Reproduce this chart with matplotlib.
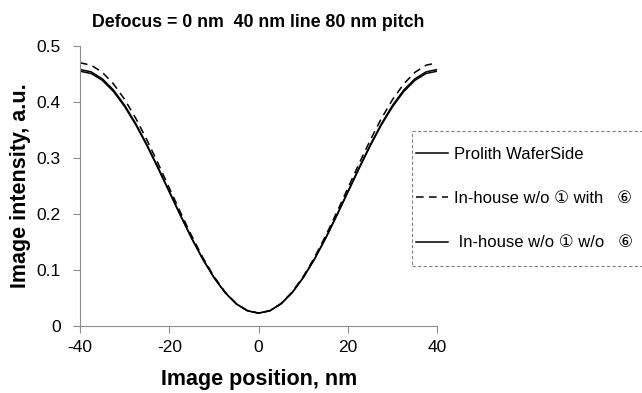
import numpy as np
import matplotlib.pyplot as plt
from matplotlib.lines import Line2D
from matplotlib.patches import Rectangle
from matplotlib.ticker import FuncFormatter

# image position, nm (symmetric about 0)
pos = [-40, -37.5, -35, -32.5, -30, -27.5, -25, -22.5, -20, -17.5, -15, -12.5, -10, -7.5, -5, -2.5,
       0, 2.5, 5, 7.5, 10, 12.5, 15, 17.5, 20, 22.5, 25, 27.5, 30, 32.5, 35, 37.5, 40]

half_prolith = [0.023, 0.0272, 0.0396, 0.0596, 0.0867, 0.1197, 0.1573, 0.1981, 0.2405,
                0.2829, 0.3237, 0.3613, 0.3943, 0.4214, 0.4414, 0.4538, 0.458]
half_with6 = [0.023, 0.0273, 0.0400, 0.0607, 0.0885, 0.1223, 0.1610, 0.2029, 0.2465,
              0.2901, 0.3320, 0.3707, 0.4045, 0.4323, 0.4530, 0.4657, 0.470]
half_wo6 = [0.023, 0.0271, 0.0394, 0.0594, 0.0863, 0.1190, 0.1563, 0.1969, 0.2390,
            0.2811, 0.3217, 0.3590, 0.3917, 0.4186, 0.4386, 0.4509, 0.455]

prolith = half_prolith[::-1] + half_prolith[1:]
with6 = half_with6[::-1] + half_with6[1:]
wo6 = half_wo6[::-1] + half_wo6[1:]

labels = ['Prolith WaferSide',
          'In-house w/o \u2460 with   \u2465',
          ' In-house w/o \u2460 w/o   \u2465']

plt.rcParams['font.family'] = ['Liberation Sans', 'DejaVu Sans', 'Noto Sans CJK JP']
plt.rcParams['axes.unicode_minus'] = False

fig = plt.figure(figsize=(6.42, 3.93), dpi=100)
ax = fig.add_axes([0.1246, 0.1705, 0.5565, 0.7125])

ax.plot(pos, prolith, color='black', lw=1.1)
ax.plot(pos, with6, color='black', lw=1.1, ls=(0, (5, 3.5)))
ax.plot(pos, wo6, color='black', lw=1.1)

ax.set_xlim(-40, 40)
ax.set_ylim(0, 0.5)
ax.set_xticks([-40, -20, 0, 20, 40])
ax.set_yticks([0, 0.1, 0.2, 0.3, 0.4, 0.5])
ax.yaxis.set_major_formatter(FuncFormatter(lambda v, p: '0' if v == 0 else '%.1f' % v))
for s in ['top', 'right']:
    ax.spines[s].set_visible(False)
for s in ['left', 'bottom']:
    ax.spines[s].set_color('#8c8c8c')
ax.tick_params(direction='out', length=5, color='#8c8c8c', labelsize=12.5)
ax.tick_params(axis='x', pad=5)
ax.tick_params(axis='y', pad=9)

ax.set_title('Defocus = 0 nm  40 nm line 80 nm pitch', fontsize=12.8, fontweight='bold', pad=14)
ax.set_xlabel('Image position, nm', fontsize=15.5, fontweight='bold', labelpad=10)
ax.set_ylabel('Image intensity, a.u.', fontsize=15.5, fontweight='bold', labelpad=4)

# legend: dashed frame drawn separately (runs off the right edge)
fig.patches.append(Rectangle((412 / 642, 1 - 266 / 393), 240 / 642, 135 / 393,
                             transform=fig.transFigure, fill=False, edgecolor='#808080',
                             lw=0.8, ls=(0, (3, 2))))
handles = [Line2D([], [], color='black', lw=1.1),
           Line2D([], [], color='black', lw=1.1, ls=(0, (5, 3.5))),
           Line2D([], [], color='black', lw=1.1)]
leg = fig.legend(handles, labels, loc='upper left', bbox_to_anchor=(416 / 642, 1 - 147 / 393),
                 fontsize=12, frameon=False, handlelength=1.9, handletextpad=0.4,
                 labelspacing=1.75, borderpad=0, borderaxespad=0)

fig.savefig('out.png', dpi=100)
